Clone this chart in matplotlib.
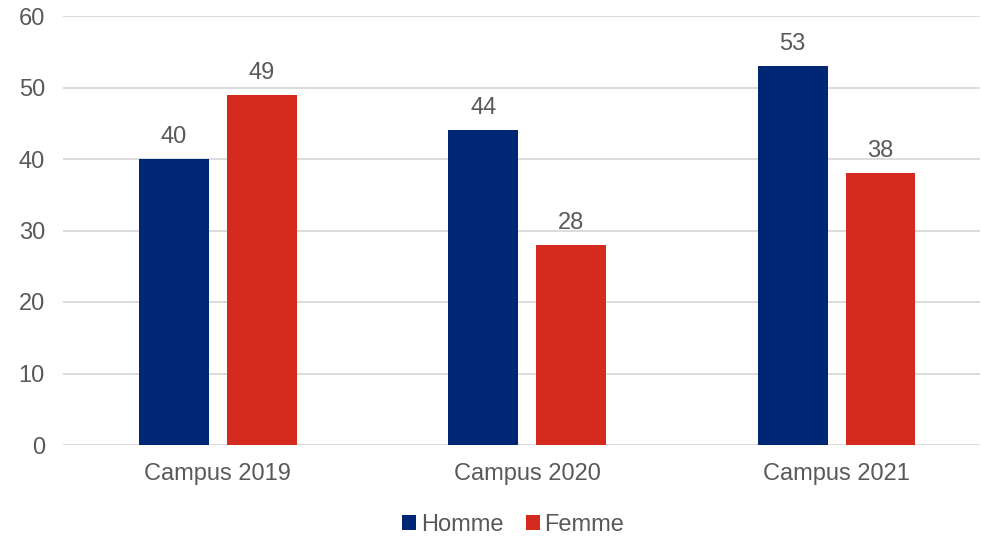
import matplotlib
matplotlib.use("Agg")
import matplotlib.pyplot as plt
import numpy as np

categories = ["Campus 2019", "Campus 2020", "Campus 2021"]
homme = [40, 44, 53]
femme = [49, 28, 38]
series_names = ["Homme", "Femme"]
colors = ["#002776", "#D52B1E"]

plt.rcParams['font.family'] = ['Liberation Sans', 'DejaVu Sans']
TXT = "#595959"
FS = 17

fig = plt.figure(figsize=(9.81, 5.38), dpi=100)
W, H = 981, 538
left, right, top, bottom = 63, 980, 16, 445
ax = fig.add_axes([left / W, 1 - bottom / H, (right - left) / W, (bottom - top) / H])

x = np.arange(len(categories))
bw = 0.226
off = 0.142
b1 = ax.bar(x - off, homme, bw, color=colors[0], label=series_names[0], zorder=3)
b2 = ax.bar(x + off, femme, bw, color=colors[1], label=series_names[1], zorder=3)
for bars in (b1, b2):
    for r in bars:
        ax.annotate(f"{int(r.get_height())}", (r.get_x() + r.get_width() / 2, r.get_height()),
                    xytext=(0, 8), textcoords="offset points", ha="center", va="bottom",
                    fontsize=FS, color=TXT)

ax.set_ylim(0, 60)
ax.set_yticks(range(0, 61, 10))
ax.set_xlim(-0.5, (right - 217.5) / 309.5)
ax.set_xticks(x)
ax.set_xticklabels(categories)
ax.yaxis.grid(True, color="#D9D9D9", linewidth=1.3, zorder=0)
ax.set_axisbelow(True)
for s in ax.spines.values():
    s.set_visible(False)
ax.tick_params(axis="both", length=0, labelsize=FS, labelcolor=TXT)
ax.tick_params(axis="y", pad=13)
ax.tick_params(axis="x", pad=13)

leg = fig.legend(handles=[b1, b2], labels=series_names, loc="center", bbox_to_anchor=(0.523, 1 - 525 / H),
                 ncol=2, frameon=False, fontsize=FS, handlelength=0.6, handleheight=0.6,
                 handletextpad=0.2, columnspacing=0.95)
for t in leg.get_texts():
    t.set_color(TXT)

fig.savefig("out.png", dpi=100)
